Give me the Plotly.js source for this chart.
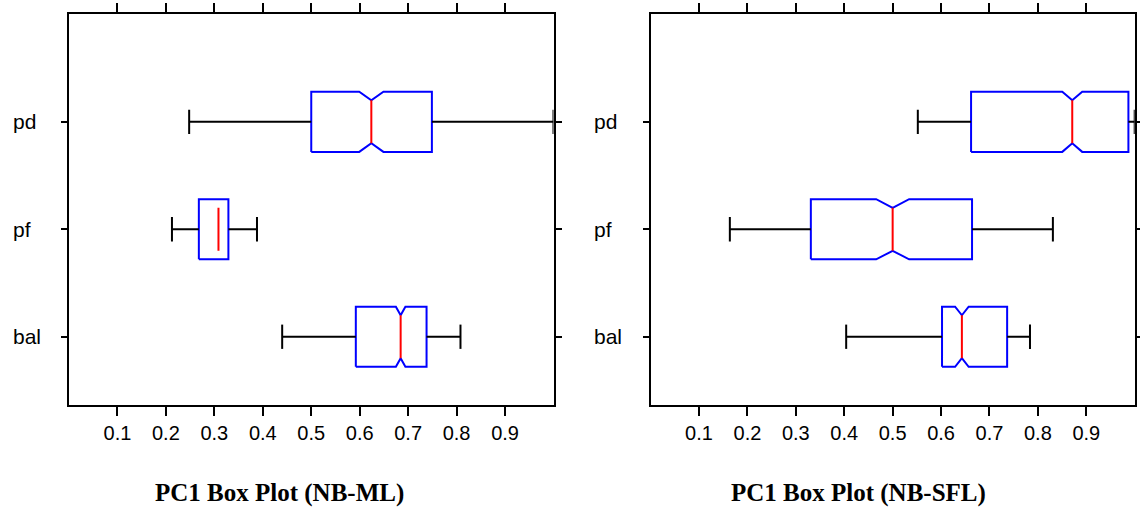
<!DOCTYPE html>
<html><head><meta charset="utf-8">
<script src="https://cdn.plot.ly/plotly-3.0.1.min.js"></script>
<style>html,body{margin:0;padding:0;background:#fff}#chart{width:1140px;height:511px}</style>
</head><body><div id="chart"></div>
<script>
// ---- data ----
const categories = ['bal', 'pf', 'pd'];
const xTickVals = [0.1, 0.2, 0.3, 0.4, 0.5, 0.6, 0.7, 0.8, 0.9];
const xTickText = ['0.1', '0.2', '0.3', '0.4', '0.5', '0.6', '0.7', '0.8', '0.9'];
const panelTitles = ['PC1 Box Plot (NB-ML)', 'PC1 Box Plot (NB-SFL)'];

// NB-ML panel (order: bal, pf, pd)
const mlLower  = [0.440, 0.2125, 0.248];
const mlQ1     = [0.592, 0.268, 0.500];
const mlMedian = [0.6845, 0.3085, 0.624];
const mlQ3     = [0.738, 0.329, 0.749];
const mlUpper  = [0.808, 0.388, 1.000];
const mlNotch  = [0.0098, null, 0.025];   // null: notch not drawn

// NB-SFL panel (order: bal, pf, pd)
const sflLower  = [0.404, 0.1637, 0.552];
const sflQ1     = [0.602, 0.331, 0.662];
const sflMedian = [0.643, 0.500, 0.871];
const sflQ3     = [0.7365, 0.664, 0.987];
const sflUpper  = [0.7837, 0.831, 1.000];
const sflNotch  = [0.014, 0.034, 0.0206];

// ---- styling ----
const BOX_HALF = 0.28, MED_HALF = 0.20, CAP_HALF = 0.113;
const BLUE = '#0000ff', RED = '#ff0000', BLACK = '#000000';

function panelTraces(xa, ya, lower, q1, med, q3, upper, notch) {
  const traces = [];
  // box outlines (with notches)
  const bx = [], by = [];
  categories.forEach((c, i) => {
    const lo = i - BOX_HALF, hi = i + BOX_HALF;
    if (notch[i] !== null) {
      const n = notch[i], m = med[i];
      bx.push(q1[i], m - n, m, m + n, q3[i], q3[i], m + n, m, m - n, q1[i], q1[i], null);
      by.push(lo, lo, i - MED_HALF, lo, lo, hi, hi, i + MED_HALF, hi, hi, lo, null);
    } else {
      bx.push(q1[i], q3[i], q3[i], q1[i], q1[i], null);
      by.push(lo, lo, hi, hi, lo, null);
    }
  });
  traces.push({ type: 'scatter', mode: 'lines', x: bx, y: by, xaxis: xa, yaxis: ya,
    line: { color: BLUE, width: 2 }, hoverinfo: 'skip', showlegend: false });
  // whiskers with caps
  const wx = [], wy = [];
  categories.forEach((c, i) => {
    wx.push(lower[i], q1[i], null, q3[i], upper[i], null,
            lower[i], lower[i], null, upper[i], upper[i], null);
    wy.push(i, i, null, i, i, null,
            i - CAP_HALF, i + CAP_HALF, null, i - CAP_HALF, i + CAP_HALF, null);
  });
  traces.push({ type: 'scatter', mode: 'lines', x: wx, y: wy, xaxis: xa, yaxis: ya,
    line: { color: BLACK, width: 2 }, hoverinfo: 'skip', showlegend: false });
  // medians
  const mx = [], my = [];
  categories.forEach((c, i) => {
    mx.push(med[i], med[i], null);
    my.push(i - MED_HALF, i + MED_HALF, null);
  });
  traces.push({ type: 'scatter', mode: 'lines', x: mx, y: my, xaxis: xa, yaxis: ya,
    line: { color: RED, width: 2 }, hoverinfo: 'skip', showlegend: false });
  return traces;
}

const data = [].concat(
  panelTraces('x', 'y', mlLower, mlQ1, mlMedian, mlQ3, mlUpper, mlNotch),
  panelTraces('x2', 'y2', sflLower, sflQ1, sflMedian, sflQ3, sflUpper, sflNotch)
);

function xAxis(domain, anchor) {
  return {
    domain: domain, anchor: anchor, range: [0, 1],
    tickmode: 'array', tickvals: xTickVals, ticktext: xTickText,
    ticks: 'outside', ticklen: 9, tickwidth: 2, tickcolor: BLACK,
    showline: true, linewidth: 2, linecolor: BLACK, mirror: 'ticks',
    showgrid: false, zeroline: false, automargin: false, fixedrange: true,
    tickfont: { family: 'Liberation Sans, Arial, sans-serif', size: 20, color: BLACK }
  };
}
function yAxis(domain, anchor) {
  return {
    domain: domain, anchor: anchor, range: [-0.635, 3.0],
    tickmode: 'array', tickvals: categories.map((c, i) => i), showticklabels: false,
    ticks: 'outside', ticklen: 6, tickwidth: 2, tickcolor: BLACK,
    showline: true, linewidth: 2, linecolor: BLACK, mirror: 'ticks',
    showgrid: false, zeroline: false, automargin: false, fixedrange: true
  };
}

const yDom = [1 - 405 / 511, 1 - 14.3 / 511];
const annotations = [];
const labelX = [11 / 1140, 592 / 1140];
const titleX = [279 / 1140, 858 / 1140];
['y', 'y2'].forEach((yr, p) => {
  categories.forEach((c, i) => {
    annotations.push({ text: c, xref: 'paper', yref: yr, x: labelX[p], y: i,
      xanchor: 'left', yanchor: 'middle', showarrow: false,
      font: { family: 'Liberation Sans, Arial, sans-serif', size: 21, color: BLACK } });
  });
  annotations.push({ text: '<b>' + panelTitles[p] + '</b>', xref: 'paper', yref: 'paper',
    x: titleX[p], y: 1 - 492.5 / 511, xanchor: 'center', yanchor: 'middle', showarrow: false,
    font: { family: 'Liberation Serif, Times New Roman, serif', size: 25, color: BLACK } });
});

const layout = {
  width: 1140, height: 511,
  margin: { l: 0, r: 0, t: 0, b: 0 },
  paper_bgcolor: '#fff', plot_bgcolor: '#fff',
  showlegend: false,
  xaxis: xAxis([69 / 1140, 553.5 / 1140], 'y'),
  yaxis: yAxis(yDom, 'x'),
  xaxis2: xAxis([650.6 / 1140, 1134.7 / 1140], 'y2'),
  yaxis2: yAxis(yDom, 'x2'),
  annotations: annotations
};

Plotly.newPlot('chart', data, layout, { staticPlot: true, displayModeBar: false });
</script></body></html>
